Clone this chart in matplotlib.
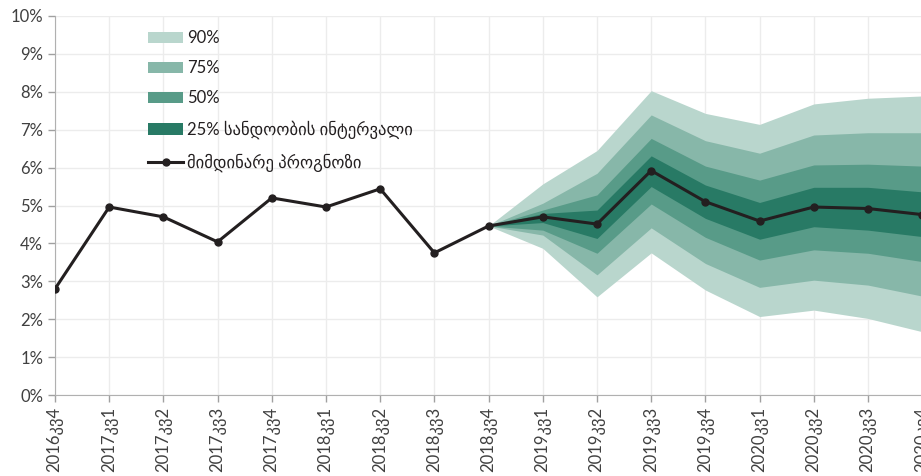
import matplotlib.pyplot as plt
from matplotlib.patches import Patch
from matplotlib.lines import Line2D

plt.rcParams['font.family'] = ['Lato', 'DejaVu Sans']

quarters = ['2016კვ4', '2017კვ1', '2017კვ2', '2017კვ3', '2017კვ4',
            '2018კვ1', '2018კვ2', '2018კვ3', '2018კვ4',
            '2019კვ1', '2019კვ2', '2019კვ3', '2019კვ4',
            '2020კვ1', '2020კვ2', '2020კვ3', '2020კვ4']

# current forecast (%)
forecast = [2.80, 4.96, 4.70, 4.04, 5.20, 4.96, 5.44, 3.75, 4.46,
            4.70, 4.51, 5.92, 5.10, 4.59, 4.96, 4.92, 4.76]

# fan bands start at 2018კვ4
fan_start = 8
upper_90 = [4.46, 5.57, 6.45, 8.03, 7.43, 7.14, 7.68, 7.83, 7.89]
upper_75 = [4.46, 5.06, 5.85, 7.39, 6.71, 6.38, 6.86, 6.92, 6.92]
upper_50 = [4.46, 4.88, 5.28, 6.77, 6.04, 5.67, 6.07, 6.09, 6.04]
upper_25 = [4.46, 4.79, 4.88, 6.31, 5.54, 5.08, 5.48, 5.48, 5.36]
lower_25 = [4.46, 4.55, 4.13, 5.50, 4.66, 4.11, 4.44, 4.35, 4.18]
lower_50 = [4.46, 4.35, 3.74, 5.04, 4.16, 3.56, 3.83, 3.74, 3.52]
lower_75 = [4.46, 4.22, 3.17, 4.41, 3.47, 2.84, 3.03, 2.90, 2.61]
lower_90 = [4.46, 3.87, 2.59, 3.75, 2.77, 2.07, 2.24, 2.02, 1.67]

band_labels = ['90%', '75%', '50%', '25% სანდოობის ინტერვალი']
band_colors = ['#b9d6cd', '#87b7a9', '#589b88', '#287a65']
line_label = 'მიმდინარე პროგნოზი'

fig = plt.figure(figsize=(9.21, 4.76), dpi=100)
ax = fig.add_axes([55 / 921, 81 / 476, 17 * 54.2 / 921, 379 / 476])

fx = list(range(fan_start, len(quarters)))
bands = [(lower_90, upper_90), (lower_75, upper_75),
         (lower_50, upper_50), (lower_25, upper_25)]
for (lo, hi), col in zip(bands, band_colors):
    ax.fill_between(fx, lo, hi, color=col, linewidth=0, zorder=2)

ax.plot(range(len(quarters)), forecast, color='#231f20', lw=2.2,
        marker='o', markersize=5, zorder=3)

ax.set_xlim(0, 17)
ax.set_ylim(0, 10)
ax.set_xticks(range(len(quarters)))
ax.set_xticklabels(quarters, rotation=90)
ax.set_yticks(range(0, 11))
ax.set_yticklabels([f'{v}%' for v in range(0, 11)])
ax.tick_params(axis='both', labelsize=12, colors='#a0a0a0', labelcolor='#404040',
               length=5, width=1)
ax.grid(True, color='#ececec', lw=1, zorder=0)
ax.set_axisbelow(True)
for s in ['top', 'right']:
    ax.spines[s].set_visible(False)
for s in ['left', 'bottom']:
    ax.spines[s].set_color('#b0b0b0')

handles = [Patch(facecolor=c, edgecolor='none') for c in band_colors]
handles.append(Line2D([], [], color='#231f20', lw=2.2, marker='o', markersize=5))
ax.legend(handles, band_labels + [line_label], loc='upper left',
          bbox_to_anchor=(133 / 921, 1 - 15 / 476), bbox_transform=fig.transFigure,
          frameon=False, fontsize=12, handlelength=2.1, handleheight=0.65,
          handletextpad=0.25, labelspacing=0.85, labelcolor='#231f20')

fig.savefig('out.png', dpi=100)
